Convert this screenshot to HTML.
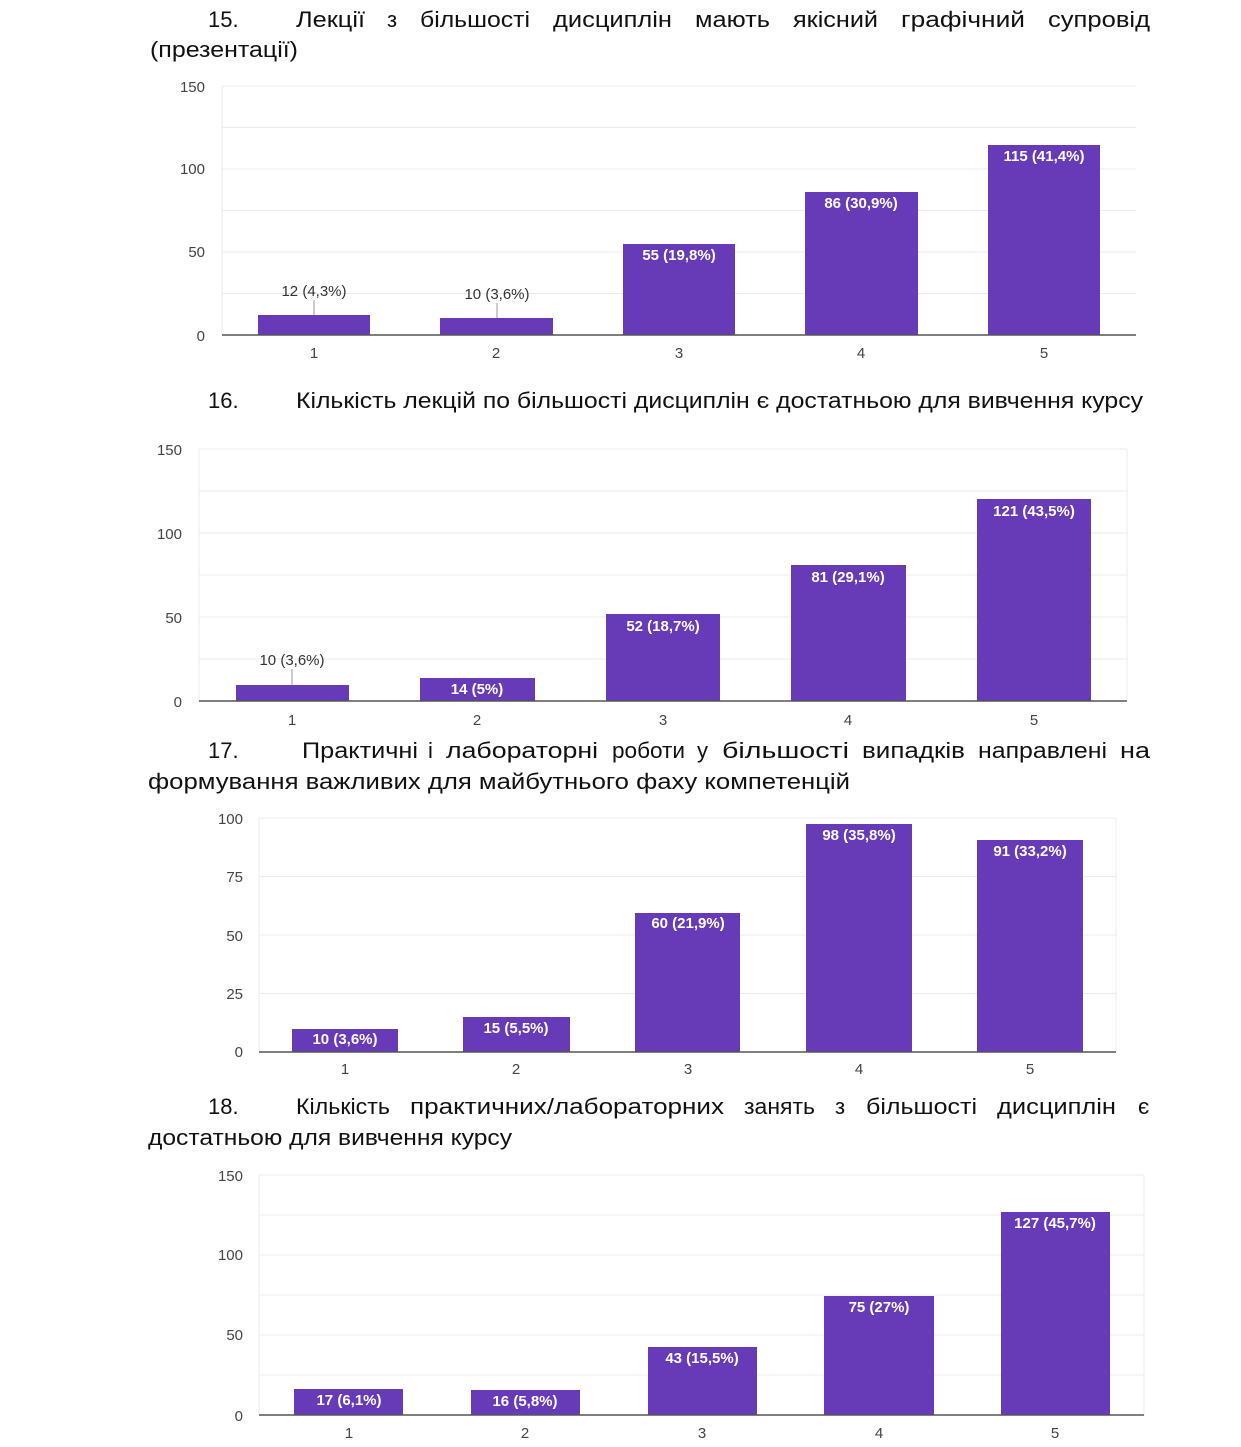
<!DOCTYPE html>
<html><head><meta charset="utf-8"><style>
html,body{margin:0;padding:0;background:#fff}
svg{display:block}
.h{font-family:"Liberation Sans",sans-serif;font-size:22px;fill:#111}
.t{font-family:"Liberation Sans",sans-serif;font-size:15px;fill:#444}
.g{stroke:#ebebeb;stroke-width:1}
.b{fill:#673ab7}
.l{font-family:"Liberation Sans",sans-serif;font-size:15px;font-weight:bold;fill:#fff}
.o{font-family:"Liberation Sans",sans-serif;font-size:15px;fill:#333}
</style></head><body>
<svg width="1241" height="1447" viewBox="0 0 1241 1447" xmlns="http://www.w3.org/2000/svg">
<!-- Heading 15 -->
<g class="h" lengthAdjust="spacingAndGlyphs">
<text x="208" y="27">15.</text>
<text x="296" y="27" textLength="69" lengthAdjust="spacingAndGlyphs">Лекції</text>
<text x="387" y="27">з</text>
<text x="420" y="27" textLength="110" lengthAdjust="spacingAndGlyphs">більшості</text>
<text x="553" y="27" textLength="119" lengthAdjust="spacingAndGlyphs">дисциплін</text>
<text x="695" y="27" textLength="75" lengthAdjust="spacingAndGlyphs">мають</text>
<text x="793" y="27" textLength="85" lengthAdjust="spacingAndGlyphs">якісний</text>
<text x="901" y="27" textLength="124" lengthAdjust="spacingAndGlyphs">графічний</text>
<text x="1048" y="27" textLength="102" lengthAdjust="spacingAndGlyphs">супровід</text>
<text x="150" y="57" textLength="148" lengthAdjust="spacingAndGlyphs">(презентації)</text>
<!-- 16 -->
<text x="208" y="408">16.</text>
<text x="296" y="408" textLength="847" lengthAdjust="spacingAndGlyphs">Кількість лекцій по більшості дисциплін є достатньою для вивчення курсу</text>
<!-- 17 -->
<text x="208" y="758">17.</text>
<text x="302" y="758" textLength="116" lengthAdjust="spacingAndGlyphs">Практичні</text>
<text x="428" y="758">і</text>
<text x="446" y="758" textLength="152" lengthAdjust="spacingAndGlyphs">лабораторні</text>
<text x="612" y="758" textLength="73" lengthAdjust="spacingAndGlyphs">роботи</text>
<text x="697" y="758">у</text>
<text x="722" y="758" textLength="127" lengthAdjust="spacingAndGlyphs">більшості</text>
<text x="862" y="758" textLength="103" lengthAdjust="spacingAndGlyphs">випадків</text>
<text x="978" y="758" textLength="129" lengthAdjust="spacingAndGlyphs">направлені</text>
<text x="1120" y="758" textLength="30" lengthAdjust="spacingAndGlyphs">на</text>
<text x="148" y="789" textLength="702" lengthAdjust="spacingAndGlyphs">формування важливих для майбутнього фаху компетенцій</text>
<!-- 18 -->
<text x="208" y="1114">18.</text>
<text x="296" y="1114" textLength="94" lengthAdjust="spacingAndGlyphs">Кількість</text>
<text x="410" y="1114" textLength="314" lengthAdjust="spacingAndGlyphs">практичних/лабораторних</text>
<text x="744" y="1114" textLength="71" lengthAdjust="spacingAndGlyphs">занять</text>
<text x="835" y="1114">з</text>
<text x="866" y="1114" textLength="111" lengthAdjust="spacingAndGlyphs">більшості</text>
<text x="997" y="1114" textLength="119" lengthAdjust="spacingAndGlyphs">дисциплін</text>
<text x="1138" y="1114">є</text>
<text x="148" y="1145" textLength="364" lengthAdjust="spacingAndGlyphs">достатньою для вивчення курсу</text>
</g>

<!-- Chart 1 -->
<g>
<line class="g" x1="222" y1="86" x2="1136" y2="86"/><line class="g" x1="222" y1="127.5" x2="1136" y2="127.5"/>
<line class="g" x1="222" y1="169" x2="1136" y2="169"/><line class="g" x1="222" y1="210.5" x2="1136" y2="210.5"/>
<line class="g" x1="222" y1="252" x2="1136" y2="252"/><line class="g" x1="222" y1="293.5" x2="1136" y2="293.5"/>
<line class="g" x1="222" y1="86" x2="222" y2="335"/>
<rect class="b" x="258" y="315" width="112" height="20"/>
<rect class="b" x="440" y="318" width="113" height="17"/>
<rect class="b" x="623" y="244" width="112" height="91"/>
<rect class="b" x="805" y="192" width="113" height="143"/>
<rect class="b" x="988" y="145" width="112" height="190"/>
<line x1="222" y1="335" x2="1136" y2="335" stroke="#555" stroke-width="1.5"/>
<g class="t" text-anchor="end"><text x="205" y="92">150</text><text x="205" y="174">100</text><text x="205" y="257">50</text><text x="205" y="341">0</text></g>
<g class="t" text-anchor="middle"><text x="314" y="358">1</text><text x="496" y="358">2</text><text x="679" y="358">3</text><text x="861" y="358">4</text><text x="1044" y="358">5</text></g>
<line x1="314" y1="300" x2="314" y2="315" stroke="#999"/><line x1="497" y1="303" x2="497" y2="318" stroke="#999"/>
<g class="o" text-anchor="middle"><text x="314" y="296">12 (4,3%)</text><text x="497" y="299">10 (3,6%)</text></g>
<g class="l" text-anchor="middle"><text x="679" y="260">55 (19,8%)</text><text x="861" y="208">86 (30,9%)</text><text x="1044" y="161">115 (41,4%)</text></g>
</g>

<!-- Chart 2 -->
<g>
<line class="g" x1="199" y1="449" x2="1127" y2="449"/><line class="g" x1="199" y1="491" x2="1127" y2="491"/>
<line class="g" x1="199" y1="533" x2="1127" y2="533"/><line class="g" x1="199" y1="575" x2="1127" y2="575"/>
<line class="g" x1="199" y1="617" x2="1127" y2="617"/><line class="g" x1="199" y1="659" x2="1127" y2="659"/>
<line class="g" x1="199" y1="449" x2="199" y2="701"/><line class="g" x1="1127" y1="449" x2="1127" y2="701"/>
<rect class="b" x="236" y="685" width="113" height="16"/>
<rect class="b" x="420" y="678" width="115" height="23"/>
<rect class="b" x="606" y="614" width="114" height="87"/>
<rect class="b" x="791" y="565" width="115" height="136"/>
<rect class="b" x="977" y="499" width="114" height="202"/>
<line x1="199" y1="701" x2="1127" y2="701" stroke="#555" stroke-width="1.5"/>
<g class="t" text-anchor="end"><text x="182" y="455">150</text><text x="182" y="539">100</text><text x="182" y="623">50</text><text x="182" y="707">0</text></g>
<g class="t" text-anchor="middle"><text x="292" y="725">1</text><text x="477" y="725">2</text><text x="663" y="725">3</text><text x="848" y="725">4</text><text x="1034" y="725">5</text></g>
<line x1="292" y1="669" x2="292" y2="685" stroke="#999"/>
<text class="o" x="292" y="665" text-anchor="middle">10 (3,6%)</text>
<g class="l" text-anchor="middle"><text x="477" y="694">14 (5%)</text><text x="663" y="631">52 (18,7%)</text><text x="848" y="582">81 (29,1%)</text><text x="1034" y="516">121 (43,5%)</text></g>
</g>

<!-- Chart 3 -->
<g>
<line class="g" x1="259" y1="818" x2="1116" y2="818"/><line class="g" x1="259" y1="876.5" x2="1116" y2="876.5"/>
<line class="g" x1="259" y1="935" x2="1116" y2="935"/><line class="g" x1="259" y1="993.5" x2="1116" y2="993.5"/>
<line class="g" x1="259" y1="818" x2="259" y2="1052"/><line class="g" x1="1116" y1="818" x2="1116" y2="1052"/>
<rect class="b" x="292" y="1029" width="106" height="23"/>
<rect class="b" x="463" y="1017" width="107" height="35"/>
<rect class="b" x="635" y="913" width="105" height="139"/>
<rect class="b" x="806" y="824" width="106" height="228"/>
<rect class="b" x="977" y="840" width="106" height="212"/>
<line x1="259" y1="1052" x2="1116" y2="1052" stroke="#555" stroke-width="1.5"/>
<g class="t" text-anchor="end"><text x="243" y="824">100</text><text x="243" y="882">75</text><text x="243" y="941">50</text><text x="243" y="999">25</text><text x="243" y="1057">0</text></g>
<g class="t" text-anchor="middle"><text x="345" y="1074">1</text><text x="516" y="1074">2</text><text x="688" y="1074">3</text><text x="859" y="1074">4</text><text x="1030" y="1074">5</text></g>
<g class="l" text-anchor="middle"><text x="345" y="1044">10 (3,6%)</text><text x="516" y="1033">15 (5,5%)</text><text x="688" y="928">60 (21,9%)</text><text x="859" y="840">98 (35,8%)</text><text x="1030" y="856">91 (33,2%)</text></g>
</g>

<!-- Chart 4 -->
<g>
<line class="g" x1="259" y1="1175" x2="1144" y2="1175"/><line class="g" x1="259" y1="1215" x2="1144" y2="1215"/>
<line class="g" x1="259" y1="1255" x2="1144" y2="1255"/><line class="g" x1="259" y1="1295" x2="1144" y2="1295"/>
<line class="g" x1="259" y1="1335" x2="1144" y2="1335"/><line class="g" x1="259" y1="1375" x2="1144" y2="1375"/>
<line class="g" x1="259" y1="1175" x2="259" y2="1415"/><line class="g" x1="1144" y1="1175" x2="1144" y2="1415"/>
<rect class="b" x="294" y="1389" width="109" height="26"/>
<rect class="b" x="471" y="1390" width="109" height="25"/>
<rect class="b" x="648" y="1347" width="109" height="68"/>
<rect class="b" x="824" y="1296" width="110" height="119"/>
<rect class="b" x="1001" y="1212" width="109" height="203"/>
<line x1="259" y1="1415" x2="1144" y2="1415" stroke="#555" stroke-width="1.5"/>
<g class="t" text-anchor="end"><text x="243" y="1181">150</text><text x="243" y="1260">100</text><text x="243" y="1340">50</text><text x="243" y="1421">0</text></g>
<g class="t" text-anchor="middle"><text x="349" y="1438">1</text><text x="525" y="1438">2</text><text x="702" y="1438">3</text><text x="879" y="1438">4</text><text x="1055" y="1438">5</text></g>
<g class="l" text-anchor="middle"><text x="349" y="1405">17 (6,1%)</text><text x="525" y="1406">16 (5,8%)</text><text x="702" y="1363">43 (15,5%)</text><text x="879" y="1312">75 (27%)</text><text x="1055" y="1228">127 (45,7%)</text></g>
</g>
</svg>
</body></html>
